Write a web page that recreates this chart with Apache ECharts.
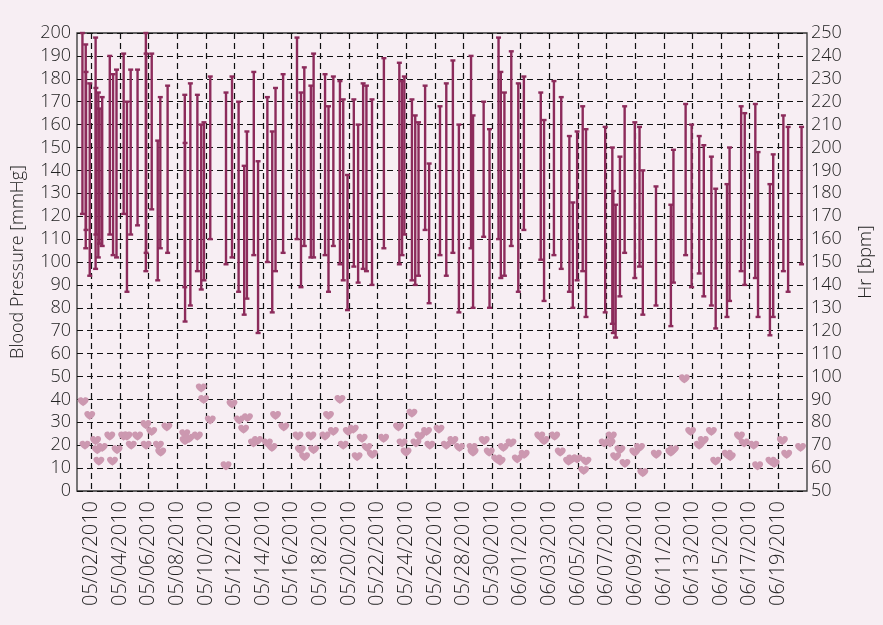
<!DOCTYPE html>
<html>
<head>
<meta charset="utf-8">
<script src="https://cdn.jsdelivr.net/npm/echarts@6/dist/echarts.min.js"></script>
<style>
  html, body { margin: 0; padding: 0; background: #f7eef3; }
  #chart { width: 883px; height: 625px; }
</style>
</head>
<body>
<div id="chart"></div>
<script>
// day offsets counted from 05/01/2010
var bpDay = [0.38, 0.61, 0.63, 0.89, 1.30, 1.32, 1.49, 1.58, 1.76, 2.29, 2.52, 2.76, 3.26, 3.49, 3.75, 4.23, 4.81, 4.83, 5.22, 5.64, 5.82, 6.33,
  7.53, 7.55, 7.92, 8.41, 8.68, 8.87, 9.31, 10.41, 10.83, 11.29, 11.68, 11.87, 12.35, 12.65, 13.30, 13.64, 13.87, 14.40, 15.37, 15.65, 15.88, 16.34, 16.53,
  17.33, 17.57, 17.91, 18.37, 18.60, 18.90, 19.34, 19.64, 19.99, 20.22, 20.61, 21.44, 22.52, 22.71, 22.87, 23.40, 23.63, 23.86, 24.32, 24.60,
  25.36, 25.80, 26.26, 26.68, 27.53, 27.67, 28.41, 28.82, 29.45, 29.61, 29.86, 30.34, 30.83, 31.22, 32.40, 32.63, 33.32, 33.83, 34.40, 34.64,
  34.94, 35.33, 35.56, 36.90, 37.40, 37.47, 37.63, 37.93, 38.26, 38.97, 39.30, 39.53, 40.45, 41.49, 41.67, 42.52, 42.94, 43.47, 43.79, 44.32,
  44.62, 45.41, 45.59, 46.40, 46.65, 47.39, 47.58, 48.41, 48.64, 49.35, 49.68, 50.62];
var bpHigh = [200, 195, 183, 178, 198, 176, 174, 167, 172, 190, 182, 184, 191, 170, 184, 184, 200, 191, 191, 153, 172, 177,
  173, 152, 178, 173, 160, 161, 181, 174, 181, 170, 142, 157, 183, 144, 172, 157, 176, 182, 198, 174, 185, 177, 191,
  182, 168, 181, 179, 171, 138, 171, 160, 178, 177, 171, 189, 187, 179, 181, 171, 164, 161, 177, 143,
  168, 178, 188, 160, 190, 164, 170, 158, 198, 183, 174, 192, 178, 181, 174, 162, 179, 172, 155, 126,
  157, 168, 158, 159, 150, 131, 125, 146, 168, 161, 159, 140, 133, 125, 149, 169, 160, 155, 151, 146,
  132, 134, 150, 168, 165, 169, 148, 134, 147, 164, 159, 159];
var bpLow = [121, 106, 114, 94, 97, 112, 102, 108, 107, 112, 103, 102, 121, 87, 112, 116, 96, 104, 123, 92, 106, 104,
  89, 74, 81, 96, 88, 92, 110, 99, 102, 87, 77, 84, 103, 69, 100, 78, 96, 104, 110, 89, 107, 102, 102,
  103, 87, 107, 99, 92, 79, 98, 91, 97, 96, 90, 106, 99, 103, 112, 92, 90, 94, 114, 82,
  103, 94, 104, 78, 106, 80, 111, 80, 110, 93, 94, 107, 87, 114, 101, 83, 103, 97, 87, 80,
  92, 96, 76, 78, 73, 69, 67, 85, 104, 93, 98, 77, 81, 72, 91, 103, 89, 95, 85, 81,
  71, 76, 83, 96, 90, 93, 76, 68, 76, 96, 87, 99];
var hrDay = [0.43, 0.56, 0.89, 1.30, 1.42, 1.53, 1.76, 2.29, 2.48, 2.80, 3.26, 3.49, 3.79, 4.23, 4.81, 4.83, 5.22, 5.69, 5.85, 6.28,
  7.53, 7.55, 7.83, 8.41, 8.68, 8.85, 9.31, 10.41, 10.83, 11.34, 11.64, 11.91, 12.33, 12.61, 13.30, 13.62, 13.87, 14.45, 15.44, 15.60,
  15.90, 16.34, 16.53,
  17.33, 17.57, 17.91, 18.37, 18.60, 18.95, 19.30, 19.57, 19.92, 20.26, 20.63, 21.42, 22.46, 22.71, 22.99, 23.40, 23.68, 23.96, 24.42, 24.65,
  25.29, 25.80, 26.26, 26.72, 27.60, 27.67, 28.45, 28.80, 29.33, 29.56, 29.79, 30.32, 30.76, 31.24, 32.33, 32.63, 33.37, 33.76, 34.34, 34.57,
  34.94, 35.40, 35.56, 36.83, 37.24, 37.33, 37.63, 37.93, 38.28, 38.97, 39.30, 39.53, 40.47, 41.49, 41.67, 42.43, 42.87, 43.47, 43.75, 44.32,
  44.62, 45.43, 45.64, 46.28, 46.61, 47.28, 47.55, 48.48, 48.71, 49.28, 49.58, 50.55];
var hrBpm = [89, 70, 83, 72, 68, 63, 69, 74, 63, 68, 74, 74, 70, 74, 79, 70, 76, 70, 67, 78,
  75, 72, 73, 74, 95, 90, 81, 61, 88, 81, 77, 82, 71, 72, 71, 69, 83, 78, 74, 68,
  65, 74, 68,
  74, 83, 76, 90, 70, 76, 77, 65, 73, 69, 66, 73, 78, 71, 67, 84, 71, 74, 76, 70,
  77, 70, 72, 69, 69, 67, 72, 67, 64, 63, 69, 71, 64, 66, 74, 72, 74, 67, 63, 64,
  64, 59, 63, 71, 71, 74, 65, 68, 62, 67, 69, 58, 66, 67, 68, 99, 76, 70, 72, 76,
  63, 66, 65, 74, 71, 70, 61, 63, 62, 72, 66, 69];
var dateTicks = [];
for (var t = 1; t <= 49; t += 2) dateTicks.push(t);

var heart = 'path://M12 21C12 21 2 14 2 8C2 4.5 4.5 2 7.5 2C9.5 2 11 3 12 5C13 3 14.5 2 16.5 2C19.5 2 22 4.5 22 8C22 14 12 21 12 21Z';

var fmtDate = function (d) {
  var dt = new Date(2010, 4, 1 + Math.round(d));
  var mm = ('0' + (dt.getMonth() + 1)).slice(-2);
  var dd = ('0' + dt.getDate()).slice(-2);
  return mm + '/' + dd + '/' + dt.getFullYear();
};

var bars = [];
for (var i = 0; i < bpDay.length; i++) bars.push([bpDay[i], bpLow[i], bpHigh[i]]);
var hearts = [];
for (var j = 0; j < hrDay.length; j++) hearts.push([hrDay[j], hrBpm[j]]);

var gridLine = { show: true, lineStyle: { color: '#111', type: [6, 4], width: 1.2 } };
var font = { fontFamily: 'Open Sans', fontWeight: 300, fontSize: 18, color: '#222' };

var myChart = echarts.init(document.getElementById('chart'));
var option = {
  backgroundColor: '#f7eef3',
  animation: false,
  grid: { left: 77, right: 68, top: 33, bottom: 134, show: true, borderColor: '#333', borderWidth: 1.3, backgroundColor: 'transparent' },
  xAxis: {
    type: 'value', min: 0, max: 51,
    axisLine: { show: false },
    axisTick: { show: false, customValues: dateTicks },
    splitLine: gridLine,
    axisLabel: Object.assign({}, font, { rotate: 90, customValues: dateTicks, formatter: fmtDate, margin: 10, fontSize: 20 })
  },
  yAxis: [{
    type: 'value', min: 0, max: 200, interval: 10,
    name: 'Blood Pressure [mmHg]', nameLocation: 'middle', nameGap: 50,
    nameTextStyle: font,
    axisLine: { show: false }, axisTick: { show: false },
    splitLine: gridLine,
    axisLabel: Object.assign({ margin: 6 }, font)
  }, {
    type: 'value', min: 50, max: 250, interval: 10,
    name: 'Hr [bpm]', nameLocation: 'middle', nameGap: 50,
    nameTextStyle: font,
    axisLine: { show: false }, axisTick: { show: false },
    splitLine: { show: false },
    axisLabel: Object.assign({ margin: 4 }, font)
  }],
  series: [{
    type: 'custom',
    data: bars,
    renderItem: function (params, api) {
      var x = api.value(0);
      var lo = api.coord([x, api.value(1)]);
      var hi = api.coord([x, api.value(2)]);
      var c = 2.5;
      var st = { stroke: '#8c2b5b', lineWidth: 2.4 };
      return {
        type: 'group',
        children: [
          { type: 'line', shape: { x1: lo[0], y1: lo[1], x2: hi[0], y2: hi[1] }, style: st },
          { type: 'line', shape: { x1: lo[0] - c, y1: lo[1], x2: lo[0] + c, y2: lo[1] }, style: st },
          { type: 'line', shape: { x1: hi[0] - c, y1: hi[1], x2: hi[0] + c, y2: hi[1] }, style: st }
        ]
      };
    }
  }, {
    type: 'scatter',
    yAxisIndex: 1,
    data: hearts,
    symbol: heart,
    symbolSize: [11, 9],
    itemStyle: { color: '#cc98b0', opacity: 1 }
  }]
};
myChart.setOption(option);
</script>
</body>
</html>
